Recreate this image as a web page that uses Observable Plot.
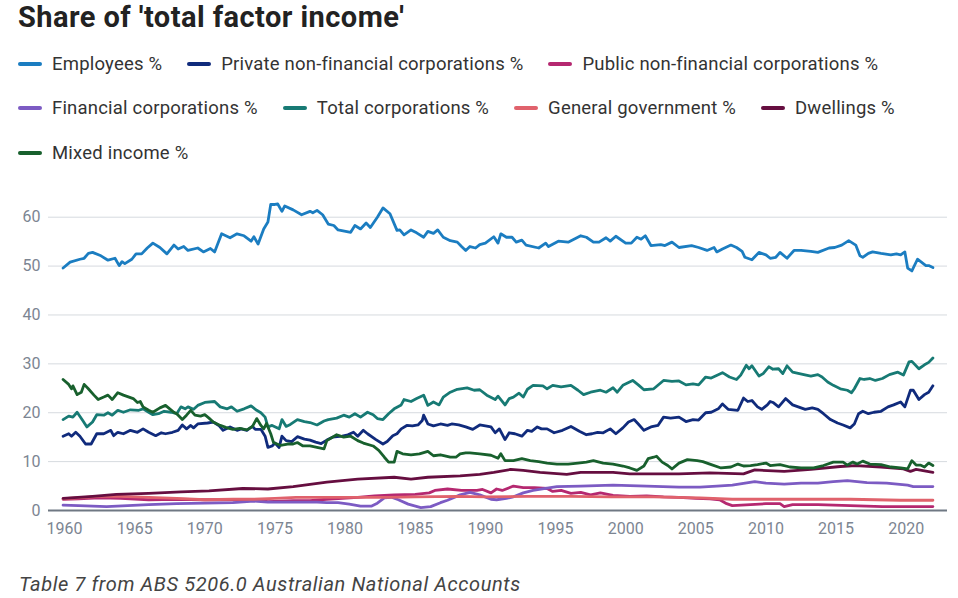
<!DOCTYPE html>
<html>
<head>
<meta charset="utf-8">
<script src="https://cdn.jsdelivr.net/npm/d3@7"></script>
<script src="https://cdn.jsdelivr.net/npm/@observablehq/plot@0.6"></script>
<style>
  html, body { margin: 0; padding: 0; background: #fff; }
  body { width: 958px; height: 598px; position: relative; overflow: hidden; font-family: Roboto, "Noto Sans", sans-serif; }
  #title { position: absolute; left: 18px; top: 0px; font-size: 29px; font-weight: 700; color: #222; letter-spacing: 0.45px; line-height: normal; white-space: nowrap; }
  .lrow { position: absolute; left: 18px; display: flex; align-items: center; height: 24px; }
  .litem { display: flex; align-items: center; margin-right: 25px; font-size: 18.5px; letter-spacing: 0.2px; color: #333; white-space: nowrap; }
  .sw { display: inline-block; width: 24px; height: 3.5px; border-radius: 2px; margin-right: 10px; }
  #chart { position: absolute; left: 0; top: 180px; }
  #caption { position: absolute; left: 19px; top: 572px; font-size: 20px; letter-spacing: 0.6px; font-style: italic; color: #444; line-height: 24px; white-space: nowrap; }
</style>
</head>
<body>
<div id="title">Share of 'total factor income'</div>
<div id="legend"></div>
<div id="chart"></div>
<div id="caption">Table 7 from ABS 5206.0 Australian National Accounts</div>
<script>
// ---- Data ([year, percent]) ----
const seriesNames = [
  "Employees %",
  "Private non-financial corporations %",
  "Public non-financial corporations %",
  "Financial corporations %",
  "Total corporations %",
  "General government %",
  "Dwellings %",
  "Mixed income %"
];
const seriesColors = ["#1B7DC1", "#102B7C", "#B52870", "#7C5BC3", "#177A74", "#E0626C", "#660E40", "#18602D"];
const legendRows = [[0, 1, 2], [3, 4, 5, 6], [7]];
const xTicks = [1960, 1965, 1970, 1975, 1980, 1985, 1990, 1995, 2000, 2005, 2010, 2015, 2020];
const yTicks = [0, 10, 20, 30, 40, 50, 60];

const employees = [[1959.9,49.6],[1960.4,50.8],[1961.1,51.4],[1961.4,51.6],[1961.7,52.6],[1962.0,52.8],[1962.6,52.1],[1963.1,51.2],[1963.6,51.6],[1963.9,50.1],[1964.1,50.9],[1964.3,50.5],[1964.8,51.4],[1965.1,52.5],[1965.5,52.5],[1965.9,53.7],[1966.3,54.7],[1966.8,53.8],[1967.3,52.5],[1967.8,54.3],[1968.1,53.5],[1968.5,54.0],[1968.8,53.2],[1969.5,53.7],[1969.9,52.9],[1970.4,53.6],[1970.7,52.9],[1971.2,56.6],[1971.8,55.8],[1972.3,56.6],[1972.8,56.2],[1973.3,55.1],[1973.5,56.0],[1973.8,54.5],[1974.2,57.6],[1974.5,59.0],[1974.7,62.6],[1975.0,62.6],[1975.2,62.7],[1975.5,61.2],[1975.7,62.3],[1976.3,61.5],[1976.9,60.5],[1977.5,61.2],[1977.7,60.9],[1978.0,61.4],[1978.4,60.5],[1978.8,58.6],[1979.2,58.3],[1979.5,57.4],[1980.4,56.9],[1980.7,58.3],[1981.1,57.6],[1981.5,58.8],[1981.8,57.9],[1982.3,60.0],[1982.7,61.9],[1983.2,60.7],[1983.7,57.3],[1983.9,57.4],[1984.2,56.4],[1984.7,57.4],[1985.1,56.8],[1985.6,55.9],[1985.9,57.1],[1986.3,56.7],[1986.6,57.4],[1987.0,55.9],[1987.5,55.2],[1988.0,54.9],[1988.3,54.0],[1988.6,53.2],[1988.9,54.0],[1989.3,53.7],[1989.6,54.4],[1990.0,54.7],[1990.6,56.0],[1990.9,54.7],[1991.1,56.6],[1991.5,55.9],[1991.9,55.9],[1992.2,54.9],[1992.6,55.3],[1992.9,54.3],[1993.8,53.7],[1994.3,54.7],[1994.5,54.0],[1995.2,55.1],[1995.9,54.9],[1996.8,56.2],[1997.2,55.9],[1997.7,54.9],[1998.1,54.9],[1998.6,55.8],[1998.9,55.1],[1999.3,56.1],[2000.0,54.7],[2000.4,54.7],[2000.8,55.9],[2001.1,55.5],[2001.4,56.2],[2001.8,54.2],[2002.5,54.4],[2002.8,54.2],[2003.3,54.9],[2003.8,53.8],[2004.7,54.2],[2005.2,53.8],[2005.8,53.2],[2006.3,53.8],[2006.5,52.9],[2006.9,53.5],[2007.5,54.3],[2007.9,53.8],[2008.3,53.0],[2008.5,51.8],[2009.0,51.3],[2009.5,52.8],[2010.0,52.3],[2010.3,51.6],[2010.7,51.8],[2011.0,52.8],[2011.5,51.6],[2012.0,53.2],[2012.5,53.2],[2013.2,53.0],[2013.7,52.8],[2014.5,53.7],[2014.9,53.8],[2015.4,54.3],[2015.9,55.2],[2016.4,54.3],[2016.7,52.1],[2016.9,51.8],[2017.3,52.6],[2017.6,52.9],[2018.2,52.6],[2018.9,52.3],[2019.3,52.5],[2019.6,52.3],[2019.9,52.9],[2020.1,49.6],[2020.4,49.0],[2020.8,51.4],[2021.4,50.1],[2021.6,50.1],[2021.9,49.7]];

const privateNonFin = [[1959.9,15.2],[1960.3,15.7],[1960.5,15.2],[1960.8,16.0],[1961.1,15.2],[1961.5,13.6],[1961.9,13.6],[1962.3,15.7],[1962.8,15.7],[1963.3,16.4],[1963.5,15.3],[1963.8,16.0],[1964.2,15.7],[1964.7,16.4],[1965.2,16.0],[1965.6,16.7],[1966.0,16.0],[1966.5,15.3],[1966.9,15.9],[1967.2,15.7],[1967.7,16.0],[1968.1,16.4],[1968.4,17.5],[1968.7,16.7],[1969.0,17.4],[1969.2,16.9],[1969.5,17.7],[1970.2,17.9],[1970.6,18.1],[1971.0,17.4],[1971.3,16.4],[1971.8,17.1],[1972.3,16.4],[1972.6,16.7],[1973.0,16.4],[1973.4,17.2],[1973.6,16.6],[1974.0,16.6],[1974.3,15.2],[1974.5,12.9],[1974.8,13.2],[1975.0,13.8],[1975.3,12.9],[1975.5,15.2],[1975.8,14.3],[1976.2,14.1],[1976.6,15.1],[1977.1,14.6],[1977.5,14.4],[1977.9,14.0],[1978.3,13.7],[1978.7,14.4],[1979.1,15.0],[1979.8,15.2],[1980.2,15.5],[1980.6,16.0],[1980.9,15.2],[1981.3,16.4],[1981.6,15.7],[1982.2,14.5],[1982.7,13.6],[1983.0,14.1],[1983.4,15.3],[1983.7,15.7],[1984.0,16.7],[1984.4,17.4],[1984.8,17.3],[1985.2,17.5],[1985.5,18.4],[1985.6,19.5],[1985.9,17.7],[1986.3,17.3],[1986.8,17.7],[1987.3,17.4],[1987.6,17.7],[1988.1,17.5],[1988.6,17.1],[1989.1,16.6],[1989.6,17.5],[1990.4,17.1],[1990.7,15.9],[1991.0,16.7],[1991.4,14.5],[1991.7,15.9],[1992.1,15.7],[1992.6,15.2],[1993.0,16.4],[1993.3,16.2],[1993.7,17.1],[1994.0,16.7],[1994.4,16.7],[1994.9,15.9],[1995.5,16.4],[1996.1,17.2],[1996.7,16.2],[1997.2,15.5],[1997.6,15.7],[1998.0,16.0],[1998.4,15.9],[1998.9,16.7],[1999.3,15.7],[1999.8,16.9],[2000.2,18.1],[2000.6,18.6],[2000.9,17.7],[2001.3,16.4],[2001.8,17.1],[2002.3,17.4],[2002.7,19.1],[2003.2,18.9],[2003.8,19.1],[2004.3,18.2],[2004.8,18.6],[2005.2,18.5],[2005.7,20.0],[2006.1,20.1],[2006.6,20.8],[2006.9,21.8],[2007.3,20.7],[2008.0,20.5],[2008.4,23.0],[2008.7,22.3],[2009.0,22.5],[2009.4,21.2],[2009.7,20.7],[2010.1,21.6],[2010.3,22.3],[2010.5,22.1],[2010.9,21.2],[2011.4,22.9],[2011.9,21.6],[2012.3,21.2],[2012.8,20.7],[2013.3,21.0],[2013.7,20.7],[2014.1,19.8],[2014.6,18.6],[2015.1,17.9],[2015.5,17.5],[2016.0,16.9],[2016.3,17.7],[2016.6,19.8],[2016.9,20.3],[2017.3,19.8],[2017.7,20.1],[2018.2,20.3],[2018.7,21.2],[2019.1,21.6],[2019.6,22.2],[2019.9,21.2],[2020.3,24.6],[2020.5,24.6],[2020.9,22.7],[2021.3,23.7],[2021.6,24.2],[2021.9,25.5]];

const publicNonFin = [[1959.9,2.3],[1961.0,2.4],[1962.5,2.6],[1964.0,2.5],[1966.0,2.2],[1968.0,2.3],[1970.0,2.2],[1972.0,2.2],[1973.5,2.2],[1974.5,1.8],[1976.3,2.0],[1977.5,2.0],[1978.7,2.3],[1980.9,2.7],[1982.1,3.0],[1983.5,3.2],[1985.0,3.3],[1986.0,3.6],[1986.4,4.1],[1987.3,4.4],[1988.3,4.1],[1989.4,4.1],[1989.8,4.3],[1990.4,3.6],[1990.8,4.4],[1991.2,4.1],[1992.0,5.0],[1992.7,4.7],[1993.5,4.7],[1994.4,4.5],[1994.8,3.9],[1995.4,4.1],[1996.1,3.5],[1996.8,3.7],[1997.5,3.2],[1998.2,3.6],[1999.1,3.1],[2000.3,2.9],[2001.5,3.0],[2002.7,2.8],[2003.8,2.7],[2005.0,2.5],[2006.0,2.4],[2006.7,2.2],[2007.2,1.4],[2007.6,1.0],[2008.9,1.2],[2010.0,1.4],[2011.0,1.4],[2011.3,0.8],[2011.9,1.2],[2013.7,1.2],[2016.0,1.0],[2018.3,0.8],[2019.6,0.8],[2021.9,0.8]];

const financialCorps = [[1959.9,1.1],[1961.0,1.0],[1963.0,0.8],[1966.0,1.2],[1968.0,1.4],[1970.0,1.5],[1972.0,1.6],[1973.5,1.9],[1974.5,1.7],[1976.3,1.7],[1978.0,1.7],[1978.7,1.6],[1979.5,1.6],[1980.3,1.3],[1981.1,0.9],[1981.9,0.9],[1982.3,1.5],[1982.8,2.6],[1983.3,2.7],[1983.8,2.2],[1984.5,1.3],[1985.4,0.6],[1986.1,0.8],[1986.8,1.6],[1987.3,2.1],[1988.2,3.2],[1988.9,3.7],[1989.6,3.2],[1990.4,2.3],[1990.8,2.2],[1991.5,2.5],[1992.0,2.8],[1992.7,3.6],[1993.4,4.1],[1994.4,4.6],[1995.1,4.9],[1996.8,5.0],[1999.1,5.2],[2001.5,5.0],[2003.8,4.8],[2005.3,4.8],[2006.5,5.0],[2007.6,5.2],[2009.2,5.9],[2010.0,5.6],[2011.3,5.4],[2012.5,5.6],[2013.7,5.6],[2014.8,5.9],[2015.8,6.1],[2017.2,5.7],[2018.6,5.6],[2020.1,5.2],[2020.5,4.9],[2021.9,4.9]];

const totalCorps = [[1959.9,18.6],[1960.3,19.3],[1960.6,19.1],[1960.9,20.1],[1961.3,18.4],[1961.6,17.1],[1962.0,18.1],[1962.3,19.6],[1962.8,19.5],[1963.1,20.0],[1963.4,19.5],[1963.8,20.5],[1964.2,20.1],[1964.7,20.6],[1965.3,20.5],[1965.6,20.8],[1966.0,20.1],[1966.3,19.6],[1966.7,19.8],[1967.1,20.3],[1967.6,20.1],[1968.0,19.8],[1968.3,21.2],[1968.6,20.8],[1968.8,21.2],[1969.2,20.7],[1969.5,21.5],[1970.0,22.1],[1970.7,22.3],[1971.1,21.2],[1971.6,20.8],[1971.9,21.2],[1972.3,20.3],[1972.8,20.8],[1973.3,21.4],[1973.7,20.5],[1974.0,20.0],[1974.3,19.1],[1974.5,17.1],[1974.8,17.4],[1975.3,16.7],[1975.5,18.6],[1975.8,17.2],[1976.1,17.6],[1976.6,18.6],[1977.1,18.2],[1977.5,18.0],[1978.0,17.5],[1978.5,18.3],[1978.8,18.6],[1979.4,18.9],[1979.9,19.5],[1980.3,19.1],[1980.7,19.8],[1981.1,19.1],[1981.6,20.1],[1982.0,19.6],[1982.3,18.8],[1982.7,18.6],[1983.1,19.8],[1983.5,20.8],[1984.0,21.6],[1984.2,22.7],[1984.7,22.3],[1985.1,22.9],[1985.6,23.6],[1985.9,21.5],[1986.3,22.2],[1986.7,21.6],[1987.0,23.2],[1987.5,24.2],[1988.0,24.8],[1988.7,25.1],[1989.2,24.6],[1989.6,24.7],[1990.1,23.6],[1990.7,22.7],[1990.9,23.4],[1991.4,21.6],[1991.7,22.9],[1992.0,23.2],[1992.4,24.0],[1992.7,23.2],[1993.0,24.8],[1993.4,25.6],[1994.1,25.5],[1994.4,24.9],[1994.8,25.6],[1995.4,25.3],[1996.1,25.6],[1996.6,24.6],[1997.0,23.7],[1997.5,24.2],[1998.2,24.6],[1998.6,24.2],[1999.1,25.1],[1999.4,24.2],[1999.8,25.6],[2000.5,26.6],[2000.9,25.7],[2001.3,24.7],[2002.0,24.9],[2002.7,26.6],[2003.3,26.4],[2003.8,26.5],[2004.3,25.7],[2004.8,25.9],[2005.2,25.7],[2005.7,27.3],[2006.1,27.1],[2006.9,28.2],[2007.4,27.3],[2007.9,26.8],[2008.2,27.7],[2008.6,29.7],[2008.8,29.0],[2009.0,29.6],[2009.5,27.5],[2009.8,28.0],[2010.2,29.4],[2010.5,28.9],[2010.9,29.0],[2011.2,28.0],[2011.5,29.6],[2011.9,28.3],[2012.7,27.8],[2013.2,27.5],[2013.7,27.8],[2014.0,27.3],[2014.4,26.3],[2014.8,25.6],[2015.3,24.9],[2015.8,24.6],[2016.1,24.1],[2016.3,24.9],[2016.7,27.0],[2017.0,26.8],[2017.4,27.0],[2017.8,26.6],[2018.3,27.0],[2018.8,27.8],[2019.4,28.3],[2019.8,27.7],[2020.2,30.4],[2020.4,30.5],[2020.9,29.0],[2021.3,29.8],[2021.6,30.3],[2021.9,31.2]];

const generalGov = [[1959.9,2.4],[1961.5,2.7],[1962.5,2.9],[1964.0,2.9],[1966.0,2.7],[1968.0,2.5],[1970.0,2.2],[1972.0,2.3],[1973.5,2.3],[1975.0,2.5],[1976.5,2.7],[1978.5,2.7],[1980.0,2.7],[1983.0,2.7],[1985.0,2.8],[1988.0,2.9],[1990.0,2.8],[1993.0,2.9],[1996.0,2.9],[1999.0,2.8],[2002.0,2.8],[2005.3,2.6],[2007.6,2.3],[2010.0,2.3],[2013.0,2.3],[2016.0,2.3],[2019.6,2.1],[2021.9,2.1]];

const dwellings = [[1959.9,2.5],[1962.0,2.9],[1963.7,3.3],[1966.0,3.5],[1968.3,3.8],[1970.3,4.0],[1972.7,4.5],[1974.5,4.4],[1976.3,4.9],[1978.7,5.8],[1980.9,6.4],[1983.5,6.8],[1984.7,6.4],[1985.9,6.8],[1988.2,7.1],[1989.6,7.4],[1990.6,7.8],[1991.8,8.4],[1992.7,8.2],[1993.9,7.8],[1995.8,7.4],[1996.8,7.8],[1999.1,7.8],[2000.3,7.5],[2001.5,7.5],[2003.8,7.5],[2006.0,7.7],[2008.4,7.5],[2009.2,8.3],[2011.3,8.0],[2013.2,8.4],[2015.3,9.0],[2016.4,9.2],[2018.2,8.9],[2019.8,8.5],[2020.3,8.0],[2020.7,8.4],[2021.9,7.8]];

const mixedIncome = [[1959.9,26.8],[1960.3,25.8],[1960.5,24.9],[1960.6,25.5],[1960.9,23.7],[1961.2,24.2],[1961.4,25.8],[1961.7,24.9],[1962.1,23.6],[1962.4,22.7],[1962.8,23.2],[1963.1,23.6],[1963.4,22.7],[1963.8,24.1],[1964.2,23.6],[1964.6,23.2],[1964.9,22.9],[1965.2,22.1],[1965.4,22.3],[1965.6,21.2],[1966.0,20.5],[1966.3,20.1],[1966.8,21.0],[1967.2,21.5],[1967.5,20.8],[1967.8,20.1],[1968.0,19.8],[1968.4,18.6],[1968.7,19.5],[1969.0,20.5],[1969.3,19.5],[1969.7,19.3],[1970.0,19.6],[1970.3,18.9],[1970.6,18.1],[1971.1,17.4],[1971.5,17.0],[1972.0,16.6],[1972.5,16.8],[1973.0,16.5],[1973.4,17.2],[1973.7,18.8],[1974.0,17.4],[1974.2,16.7],[1974.4,17.8],[1974.7,15.7],[1974.9,13.9],[1975.4,13.3],[1975.9,13.6],[1976.3,13.6],[1976.6,13.9],[1977.0,13.2],[1977.5,13.2],[1978.0,12.9],[1978.5,12.6],[1978.7,14.3],[1979.4,15.5],[1979.9,15.0],[1980.4,15.2],[1980.9,14.3],[1981.3,13.8],[1982.0,13.2],[1982.4,12.3],[1982.8,10.9],[1983.1,9.9],[1983.5,9.9],[1983.7,12.1],[1984.1,11.6],[1984.7,11.4],[1985.3,11.6],[1985.9,12.1],[1986.3,11.2],[1986.8,11.4],[1987.5,10.9],[1987.9,10.9],[1988.2,11.6],[1988.6,11.8],[1988.9,11.8],[1989.6,11.6],[1990.4,11.3],[1990.9,10.7],[1991.1,11.6],[1991.4,10.2],[1992.0,10.2],[1992.6,10.6],[1993.2,10.2],[1993.8,10.0],[1994.4,9.7],[1995.1,9.5],[1995.9,9.5],[1996.6,9.7],[1997.2,9.9],[1997.7,10.2],[1998.4,9.7],[1999.1,9.5],[1999.8,9.1],[2000.3,8.7],[2000.8,8.2],[2001.3,9.1],[2001.6,10.6],[2002.0,10.9],[2002.2,11.1],[2002.6,9.9],[2003.0,9.2],[2003.3,8.5],[2003.8,9.7],[2004.4,10.4],[2005.1,10.2],[2005.5,10.0],[2006.0,9.5],[2006.8,8.7],[2007.5,8.9],[2008.0,9.5],[2008.4,9.1],[2008.9,9.2],[2009.4,9.4],[2010.0,9.7],[2010.3,9.2],[2011.0,9.4],[2011.7,8.9],[2012.5,8.7],[2013.4,8.7],[2014.1,9.2],[2014.8,9.9],[2015.5,9.9],[2015.8,9.3],[2016.2,9.9],[2016.5,9.5],[2016.9,10.1],[2017.4,9.5],[2018.2,9.4],[2018.9,8.9],[2019.6,8.7],[2020.1,8.5],[2020.4,10.2],[2020.7,9.3],[2021.0,9.3],[2021.3,8.9],[2021.6,9.7],[2021.9,9.2]];

const seriesData = [employees, privateNonFin, publicNonFin, financialCorps, totalCorps, generalGov, dwellings, mixedIncome];

// ---- Legend ----
const legend = document.getElementById("legend");
const rowCenters = [64, 108, 153];
legendRows.forEach((row, r) => {
  const div = document.createElement("div");
  div.className = "lrow";
  div.style.top = (rowCenters[r] - 12) + "px";
  row.forEach(i => {
    const item = document.createElement("div");
    item.className = "litem";
    const sw = document.createElement("span");
    sw.className = "sw";
    sw.style.background = seriesColors[i];
    item.appendChild(sw);
    item.appendChild(document.createTextNode(seriesNames[i]));
    div.appendChild(item);
  });
  legend.appendChild(div);
});

// ---- Chart ----
const rows = seriesData.flatMap((arr, i) => arr.map(([year, value]) => ({ name: seriesNames[i], year, value })));

const chart = Plot.plot({
  width: 958,
  height: 370,
  marginTop: 36.7,
  marginBottom: 40,
  marginLeft: 48,
  marginRight: 11,
  style: { fontFamily: "Roboto, sans-serif", background: "transparent", overflow: "visible" },
  x: { type: "linear", domain: [1958.86, 2022.94] },
  y: { domain: [0, 60] },
  marks: [
    Plot.ruleY(yTicks.filter(d => d > 0), { stroke: "#d6dadf", strokeWidth: 1 }),
    Plot.axisY({ ticks: yTicks, tickSize: 0, tickPadding: 8, fontSize: 16, fill: "#7c8592", label: null }),
    Plot.axisX({ ticks: xTicks, tickFormat: d => String(d), tickSize: 0, tickPadding: 12, fontSize: 16, fill: "#7c8592", label: null }),
    ...seriesNames.map((name, i) =>
      Plot.line(rows.filter(d => d.name === name), {
        x: "year", y: "value",
        stroke: seriesColors[i], strokeWidth: 2.8, strokeLinejoin: "round", strokeLinecap: "round"
      })
    ),
    Plot.ruleY([0], { stroke: "#6f7883", strokeWidth: 2 })
  ]
});
document.getElementById("chart").appendChild(chart);
</script>
</body>
</html>
